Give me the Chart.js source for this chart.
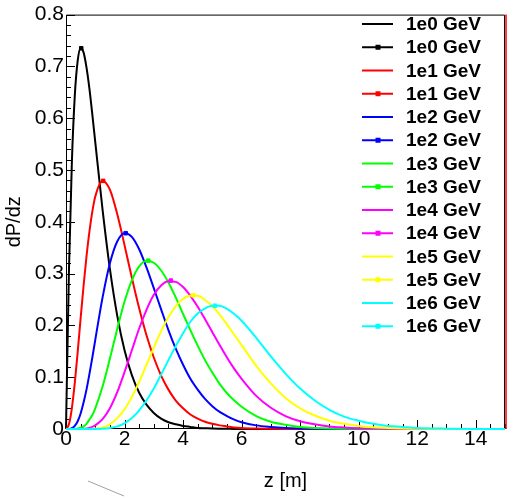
<!DOCTYPE html>
<html>
<head>
<meta charset="utf-8">
<script src="https://cdn.jsdelivr.net/npm/chart.js@4.4.0/dist/chart.umd.min.js"></script>
<style>
  html, body { margin: 0; padding: 0; background: #fff; }
  #wrap { width: 513px; height: 498px; }
</style>
</head>
<body>
<div id="wrap"><canvas id="profileChart" width="513" height="498"></canvas></div>
<script>
// shower depth grid (m)
const zValues = [0, 0.1, 0.2, 0.3, 0.4, 0.5, 0.6, 0.7, 0.8, 0.9, 1,
  1.25, 1.5, 1.75, 2, 2.25, 2.5, 2.75, 3, 3.25, 3.5, 3.75, 4, 4.25, 4.5, 4.75, 5, 5.25, 5.5, 5.75, 6,
  6.5, 7, 7.5, 8, 8.5, 9, 9.5, 10, 10.5, 11, 11.5, 12,
  13, 14, 15];

// dP/dz, one array per energy
const profile1e0 = [0, 0.304, 0.514, 0.643, 0.711, 0.735, 0.727, 0.698, 0.657, 0.607, 0.554,
  0.423, 0.309, 0.219, 0.152, 0.104, 0.070, 0.047, 0.031, 0.020, 0.013, 0.009, 0.006, 0.004, 0.002, 0.0015, 0.001, 0.0006, 0.0004, 0.0002, 0.0001,
  0, 0, 0, 0, 0, 0, 0, 0, 0, 0, 0, 0,
  0, 0, 0];
const profile1e1 = [0, 0.009, 0.040, 0.089, 0.149, 0.214, 0.276, 0.333, 0.381, 0.420, 0.449,
  0.479, 0.462, 0.415, 0.355, 0.292, 0.233, 0.181, 0.138, 0.103, 0.076, 0.055, 0.040, 0.028, 0.020, 0.014, 0.010, 0.007, 0.005, 0.003, 0.002,
  0.001, 0.0005, 0.0002, 0.0001, 0, 0, 0, 0, 0, 0, 0, 0,
  0, 0, 0];
const profile1e2 = [0, 0.0001, 0.0015, 0.006, 0.015, 0.030, 0.051, 0.076, 0.106, 0.138, 0.172,
  0.254, 0.320, 0.362, 0.378, 0.371, 0.347, 0.312, 0.272, 0.231, 0.191, 0.155, 0.124, 0.097, 0.076, 0.058, 0.044, 0.033, 0.025, 0.018, 0.013,
  0.007, 0.004, 0.002, 0.001, 0.0004, 0.0002, 0.0001, 0, 0, 0, 0, 0,
  0, 0, 0];
const profile1e3 = [0, 0, 0, 0.0002, 0.001, 0.0025, 0.005, 0.010, 0.018, 0.027, 0.040,
  0.082, 0.136, 0.193, 0.246, 0.287, 0.314, 0.325, 0.321, 0.306, 0.283, 0.254, 0.222, 0.191, 0.161, 0.133, 0.109, 0.087, 0.069, 0.055, 0.043,
  0.025, 0.014, 0.008, 0.004, 0.002, 0.001, 0.0006, 0.0003, 0.0001, 0, 0, 0,
  0, 0, 0];
const profile1e4 = [0, 0, 0, 0, 0, 0.0002, 0.0004, 0.001, 0.002, 0.004, 0.007,
  0.019, 0.040, 0.071, 0.110, 0.152, 0.194, 0.230, 0.259, 0.277, 0.285, 0.284, 0.274, 0.257, 0.236, 0.212, 0.187, 0.162, 0.138, 0.116, 0.097,
  0.064, 0.041, 0.025, 0.015, 0.009, 0.005, 0.003, 0.0016, 0.0008, 0.0004, 0.0002, 0.0001,
  0, 0, 0];
const profile1e5 = [0, 0, 0, 0, 0, 0, 0, 0.0001, 0.0002, 0.0005, 0.0009,
  0.003, 0.009, 0.021, 0.038, 0.062, 0.091, 0.124, 0.157, 0.189, 0.216, 0.237, 0.251, 0.257, 0.257, 0.249, 0.237, 0.221, 0.202, 0.182, 0.162,
  0.122, 0.088, 0.060, 0.040, 0.026, 0.016, 0.010, 0.006, 0.0035, 0.002, 0.001, 0.0006,
  0.0002, 0.0001, 0];
const profile1e6 = [0, 0, 0, 0, 0, 0, 0, 0, 0, 0, 0.0001,
  0.0005, 0.002, 0.005, 0.011, 0.021, 0.036, 0.055, 0.078, 0.105, 0.133, 0.160, 0.185, 0.207, 0.223, 0.233, 0.238, 0.238, 0.232, 0.222, 0.209,
  0.176, 0.140, 0.107, 0.078, 0.055, 0.037, 0.024, 0.016, 0.010, 0.006, 0.004, 0.002,
  0.0007, 0.0002, 0.0001];

// shower maximum (marked point) for each energy
const peakZ = [0.52, 1.27, 2.04, 2.81, 3.58, 4.35, 5.09];
const peakValue = [0.735, 0.479, 0.378, 0.325, 0.2865, 0.258, 0.238];

const energyLabels = ['1e0 GeV', '1e1 GeV', '1e2 GeV', '1e3 GeV', '1e4 GeV', '1e5 GeV', '1e6 GeV'];
const energyColors = ['#000000', '#ff0000', '#0000ff', '#00ff00', '#ff00ff', '#ffff00', '#00ffff'];
const profiles = [profile1e0, profile1e1, profile1e2, profile1e3, profile1e4, profile1e5, profile1e6];

const xTickValues = [0, 2, 4, 6, 8, 10, 12, 14];
const yTickValues = [0, 0.1, 0.2, 0.3, 0.4, 0.5, 0.6, 0.7, 0.8];

const fontFamily = "'Liberation Sans', Arial, Helvetica, sans-serif";

// build datasets: plain line + line with marker at the maximum
const datasets = [];
profiles.forEach((prof, e) => {
  datasets.push({
    label: energyLabels[e],
    data: zValues.map((z, i) => ({ x: z, y: prof[i] })),
    borderColor: energyColors[e],
    borderWidth: 2,
    pointRadius: 0,
    cubicInterpolationMode: 'monotone',
    fill: false,
    clip: 3
  });
  datasets.push({
    label: energyLabels[e],
    data: [{ x: peakZ[e], y: peakValue[e] }],
    borderColor: energyColors[e],
    backgroundColor: energyColors[e],
    showLine: false,
    pointStyle: 'rect',
    pointRadius: 2.5,
    borderWidth: 1,
    clip: 3
  });
});
// later entries drawn on top (cyan last)
datasets.forEach((ds, i) => { ds.order = 100 - i; });

// frame, inward ticks, legend
const rootFramePlugin = {
  id: 'rootFrame',
  beforeDatasetsDraw(chart) {
    const ctx = chart.ctx;
    const a = chart.chartArea;
    const xs = chart.scales.x, ys = chart.scales.y;
    ctx.save();
    ctx.strokeStyle = '#000';
    ctx.lineWidth = 1;
    ctx.beginPath();
    ctx.moveTo(a.left + 0.5, a.bottom);
    ctx.lineTo(a.left + 0.5, a.top + 0.5);
    ctx.lineTo(a.right - 0.5, a.top + 0.5);
    ctx.lineTo(a.right - 0.5, a.bottom);
    ctx.moveTo(a.left, a.bottom - 0.5);
    ctx.lineTo(a.right, a.bottom - 0.5);
    ctx.stroke();
    // y ticks
    ctx.beginPath();
    for (let v = 0; v <= 0.8001; v += 0.02) {
      const py = Math.round(ys.getPixelForValue(v)) + 0.5;
      const major = Math.abs(v * 10 - Math.round(v * 10)) < 1e-6;
      ctx.moveTo(a.left, py);
      ctx.lineTo(a.left + (major ? 9 : 5), py);
    }
    // x ticks
    for (let v = 0; v <= 15.001; v += 0.5) {
      const px = Math.round(xs.getPixelForValue(v)) + 0.5;
      const major = Math.abs(v / 2 - Math.round(v / 2)) < 1e-6;
      ctx.moveTo(px, a.bottom);
      ctx.lineTo(px, a.bottom - (major ? 9 : 5));
    }
    ctx.stroke();
    ctx.restore();
  },
  afterDraw(chart) {
    const ctx = chart.ctx;
    const a = chart.chartArea;
    ctx.save();
    // red edge on the right
    ctx.strokeStyle = '#ff0000';
    ctx.lineWidth = 1.5;
    ctx.beginPath();
    ctx.moveTo(a.right + 1, a.top);
    ctx.lineTo(a.right + 1, a.bottom);
    ctx.stroke();

    // legend
    ctx.font = 'bold 19px ' + fontFamily;
    ctx.textBaseline = 'middle';
    ctx.textAlign = 'left';
    for (let i = 0; i < 14; i++) {
      const e = Math.floor(i / 2);
      const y = 24 + 23.25 * i;
      ctx.strokeStyle = energyColors[e];
      ctx.lineWidth = 2;
      ctx.beginPath();
      ctx.moveTo(362, y);
      ctx.lineTo(393, y);
      ctx.stroke();
      if (i % 2 === 1) {
        ctx.fillStyle = energyColors[e];
        ctx.fillRect(375.5, y - 2.5, 5, 5);
      }
      ctx.fillStyle = '#000';
      ctx.fillText(energyLabels[e], 406, y + 1);
    }

    // stray grey stroke under the axis
    ctx.strokeStyle = '#a0a0a0';
    ctx.lineWidth = 1;
    ctx.beginPath();
    ctx.moveTo(88, 481);
    ctx.lineTo(124, 496);
    ctx.stroke();
    ctx.restore();
  }
};

const ctx = document.getElementById('profileChart').getContext('2d');
new Chart(ctx, {
  type: 'line',
  data: { datasets: datasets },
  options: {
    responsive: false,
    animation: false,
    events: [],
    layout: { padding: { top: 12, right: 8, left: 0, bottom: 0 } },
    plugins: {
      legend: { display: false },
      tooltip: { enabled: false }
    },
    scales: {
      x: {
        type: 'linear',
        min: 0,
        max: 15,
        afterBuildTicks: (scale) => { scale.ticks = xTickValues.map(v => ({ value: v })); },
        afterFit: (scale) => { scale.height = 69; },
        grid: { display: false, drawTicks: false },
        border: { display: false },
        ticks: {
          color: '#000',
          font: { family: fontFamily, size: 21, lineHeight: 1 },
          padding: 0,
          maxRotation: 0,
          autoSkip: false
        },
        title: {
          display: true,
          text: 'z [m]',
          color: '#000',
          font: { family: fontFamily, size: 20 },
          padding: { top: 0, bottom: 5 }
        }
      },
      y: {
        type: 'linear',
        min: 0,
        max: 0.8,
        afterBuildTicks: (scale) => { scale.ticks = yTickValues.map(v => ({ value: v })); },
        afterFit: (scale) => { scale.width = 66; },
        grid: { display: false, drawTicks: false },
        border: { display: false },
        ticks: {
          color: '#000',
          font: { family: fontFamily, size: 21 },
          padding: 2,
          callback: (v) => (v === 0 ? '0' : v.toFixed(1))
        },
        title: {
          display: true,
          text: 'dP/dz',
          color: '#000',
          font: { family: fontFamily, size: 20 },
          padding: { top: 2, bottom: 0 }
        }
      }
    }
  },
  plugins: [rootFramePlugin]
});
</script>
</body>
</html>
